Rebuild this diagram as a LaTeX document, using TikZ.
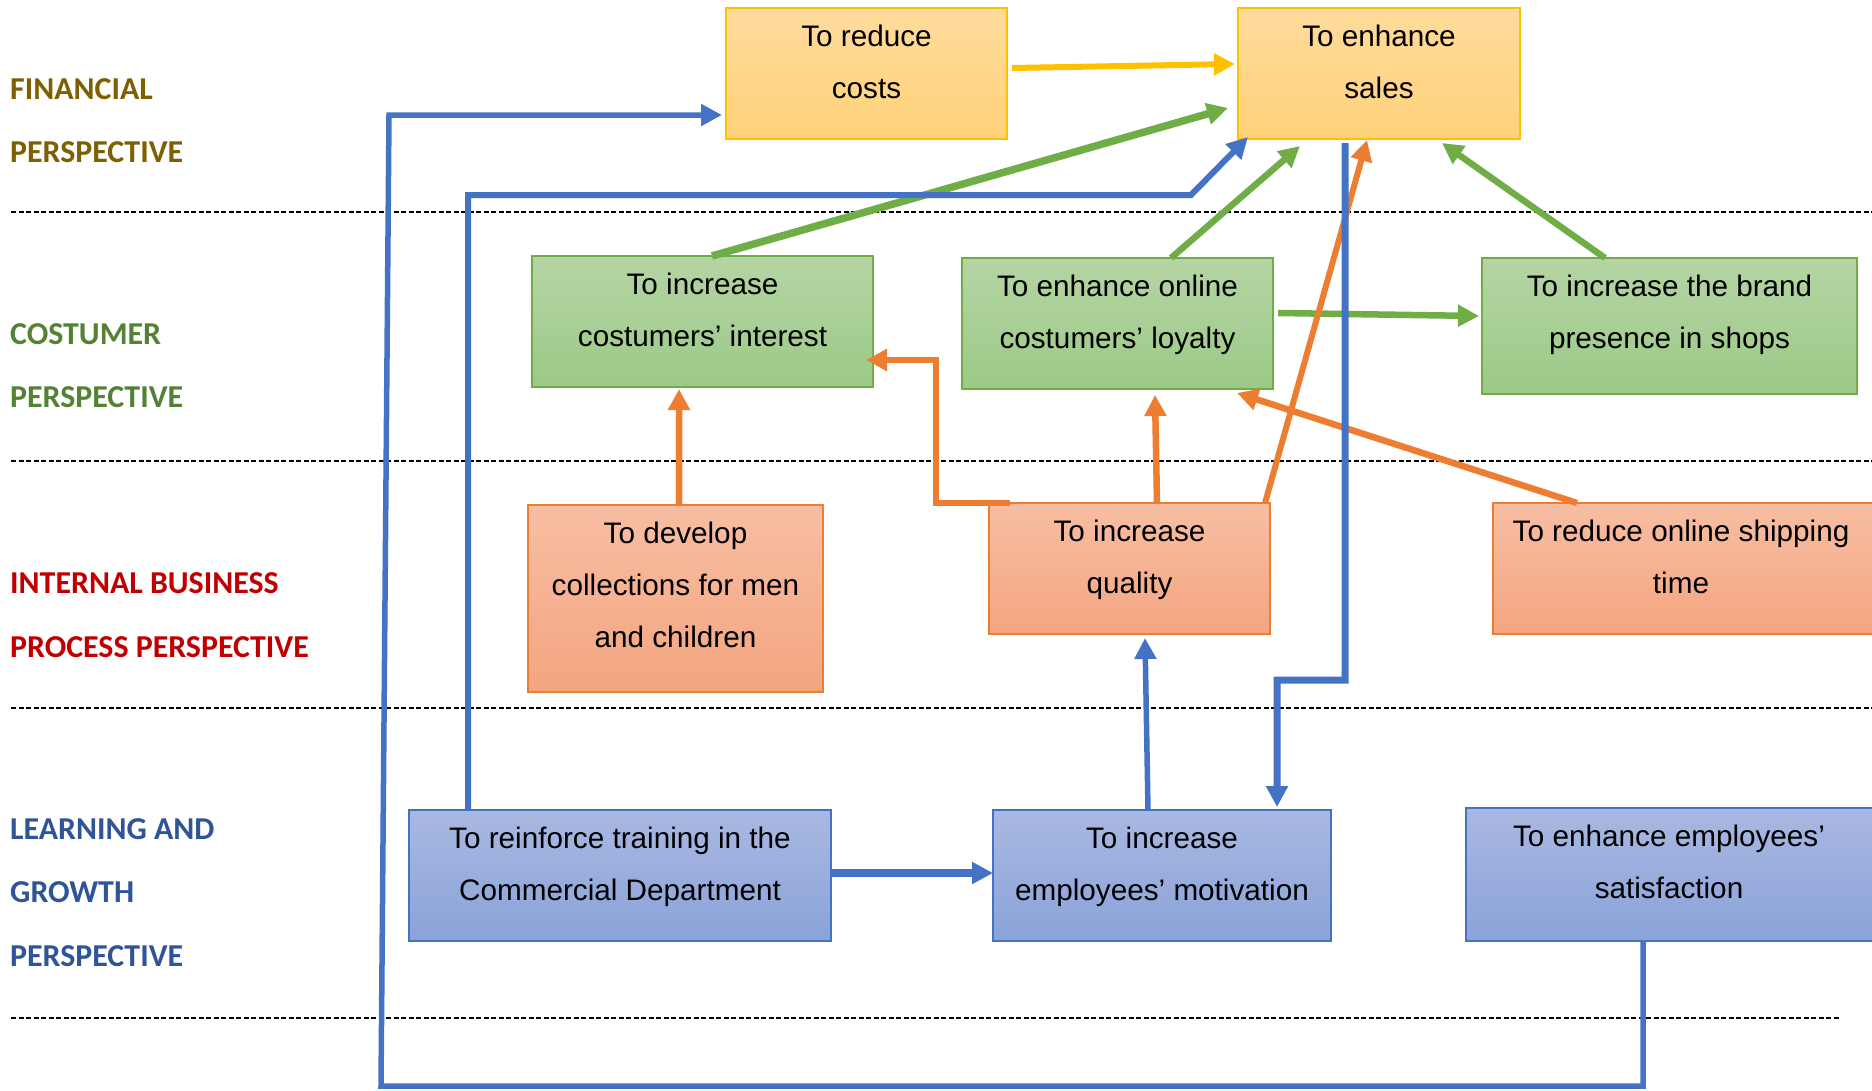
\documentclass[tikz,border=0pt]{standalone}
\usepackage{fontspec}
\setmainfont{Liberation Sans}
\newfontfamily\labelfont{Carlito}
\usetikzlibrary{arrows.meta,calc}

\definecolor{goldline}{HTML}{FFC000}
\definecolor{goldtop}{HTML}{FFDB9C}
\definecolor{goldbot}{HTML}{FFD27A}
\definecolor{greenline}{HTML}{70AD47}
\definecolor{greentop}{HTML}{B5D5A4}
\definecolor{greenbot}{HTML}{9CC987}
\definecolor{orangeline}{HTML}{ED7D31}
\definecolor{orangetop}{HTML}{F7BEA3}
\definecolor{orangebot}{HTML}{F4A580}
\definecolor{blueline}{HTML}{4472C4}
\definecolor{bluetop}{HTML}{A9B8E1}
\definecolor{bluebot}{HTML}{8AA3D9}
\definecolor{finlabel}{HTML}{7F6000}
\definecolor{cuslabel}{HTML}{548235}
\definecolor{intlabel}{HTML}{C00000}
\definecolor{lrnlabel}{HTML}{2F5597}

\begin{document}
\begin{tikzpicture}[x=1bp,y=-1bp,
  boxbase/.style={line width=1.5bp, inner sep=0pt, outer sep=0pt},
  ybox/.style={boxbase, draw=goldline, top color=goldtop, bottom color=goldbot},
  gbox/.style={boxbase, draw=greenline, top color=greentop, bottom color=greenbot},
  obox/.style={boxbase, draw=orangeline, top color=orangetop, bottom color=orangebot},
  bbox/.style={boxbase, draw=blueline, top color=bluetop, bottom color=bluebot},
  boxtext/.style={font=\fontsize{29.8}{52}\selectfont, align=center, inner sep=0pt, anchor=north, text=black},
  sidelabel/.style={font=\labelfont\bfseries\fontsize{32}{63.5}\selectfont, align=left, inner sep=0pt, anchor=north west},
  divider/.style={black, line width=1.8bp, dash pattern=on 5bp off 2.5bp},
  tipped/.style={-{Triangle[length=21bp,width=21bp]}},
  yarrow/.style={tipped, goldline, line width=6bp},
  garrow/.style={tipped, greenline, line width=6.5bp},
  oarrow/.style={tipped, orangeline, line width=6.5bp},
  barrow/.style={tipped, blueline, line width=6.5bp}
]
\fill[white] (0,0) rectangle (1872,1090);
\useasboundingbox (0,0) rectangle (1872,1090);

% perspective dividers
\draw[divider] (11,212) -- (1872,212);
\draw[divider] (11,461) -- (1872,461);
\draw[divider] (11,708) -- (1872,708);
\draw[divider] (11,1018) -- (1839,1018);

% perspective names
\node[sidelabel, text=finlabel] (lab-fin) at (10,55) {\strut FINANCIAL\\PERSPECTIVE};
\node[sidelabel, text=cuslabel] (lab-cus) at (10,300) {\strut COSTUMER\\PERSPECTIVE};
\node[sidelabel, text=intlabel] (lab-int) at (10,549.5) {\strut INTERNAL BUSINESS\\PROCESS PERSPECTIVE};
\node[sidelabel, text=lrnlabel] (lab-lrn) at (10,795) {\strut LEARNING AND\\GROWTH\\PERSPECTIVE};

% objective boxes
\node[ybox, minimum width=281bp, minimum height=131bp] (costs) at (866.5,73.5) {};
\node[ybox, minimum width=282bp, minimum height=131bp] (sales) at (1379,73.5) {};
\node[gbox, minimum width=341bp, minimum height=131bp] (interest) at (702.5,321.5) {};
\node[gbox, minimum width=311bp, minimum height=131bp] (loyalty) at (1117.5,323.5) {};
\node[gbox, minimum width=375bp, minimum height=136bp] (brand) at (1669.5,326) {};
\node[obox, minimum width=295bp, minimum height=187bp] (develop) at (675.5,598.5) {};
\node[obox, minimum width=281bp, minimum height=131bp] (quality) at (1129.5,568.5) {};
\node[obox, minimum width=382bp, minimum height=131bp] (shipping) at (1684,568.5) {};
\node[bbox, minimum width=422bp, minimum height=131bp] (reinforce) at (620,875.5) {};
\node[bbox, minimum width=338bp, minimum height=131bp] (motivation) at (1162,875.5) {};
\node[bbox, minimum width=409bp, minimum height=133bp] (satisfaction) at (1670.5,874.5) {};

% box texts
\node[boxtext] (costs-t) at ($(costs.north)+(0,2.4)$) {\strut To reduce\\costs};
\node[boxtext] (sales-t) at ($(sales.north)+(0,2.4)$) {\strut To enhance\\sales};
\node[boxtext] (interest-t) at ($(interest.north)+(0,2.4)$) {\strut To increase\\costumers’ interest};
\node[boxtext] (loyalty-t) at ($(loyalty.north)+(0,2.4)$) {\strut To enhance online\\costumers’ loyalty};
\node[boxtext] (brand-t) at ($(brand.north)+(0,2.4)$) {\strut To increase the brand\\presence in shops};
\node[boxtext] (develop-t) at ($(develop.north)+(0,2.4)$) {\strut To develop\\collections for men\\and children};
\node[boxtext] (quality-t) at ($(quality.north)+(0,2.4)$) {\strut To increase\\quality};
\node[boxtext] (shipping-t) at ($(shipping.north)+(-3,2.4)$) {\strut To reduce online shipping\\time};
\node[boxtext] (reinforce-t) at ($(reinforce.north)+(0,2.4)$) {\strut To reinforce training in the\\Commercial Department};
\node[boxtext] (motivation-t) at ($(motivation.north)+(0,2.4)$) {\strut To increase\\employees’ motivation};
\node[boxtext] (satisfaction-t) at ($(satisfaction.north)+(-1.5,2.4)$) {\strut To enhance employees’\\satisfaction};

% financial link
\draw[yarrow] ($(costs.east)+(5,-5.5)$) -- ($(sales.west)+(-3,-9.5)$);

% customer links
\draw[garrow, line width=7.5bp] ($(interest.north)+(9.5,0)$) -- ($(sales.west)+(-10,34.5)$);
\draw[garrow] ($(loyalty.north)+(53.5,0)$) -- ($(sales.south)+(-79,7)$);
\draw[garrow] ($(brand.north)+(-64.5,0)$) -- ($(sales.south)+(63,4)$);
\draw[garrow] ($(loyalty.east)+(5,-10.5)$) -- ($(brand.west)+(-3,-10)$);

% internal process links
\draw[oarrow] ($(develop.north)+(3.5,0)$) -- ($(interest.south)+(-23.5,2)$);
\draw[oarrow] ($(quality.north west)+(21,0)$) -- ++(-74,0) |- ($(interest.east)+(-7,38.5)$);
\draw[oarrow] ($(quality.north)+(27.5,0)$) -- ($(loyalty.south)+(37.5,6)$);
\draw[oarrow, line width=6bp] ($(quality.north east)+(-5,0)$) -- ($(sales.south)+(-12,1)$);
\draw[oarrow] ($(shipping.north west)+(84,0)$) -- ($(loyalty.south east)+(-36,4)$);

% learning and growth links
\draw[barrow, line width=5.5bp] ($(motivation.north)+(-14,0)$) -- ($(quality.south)+(15.5,4)$);
\draw[barrow, line width=8bp] ($(reinforce.east)+(0,-2.5)$) -- ($(motivation.west)+(0,-2.5)$);
\draw[barrow, line width=7bp] ($(sales.south)+(-34,4)$) -- ++(0,537) -- ++(-68,0) -- ($(motivation.north east)+(-54,-3)$);
\draw[barrow, line width=6bp] ($(reinforce.north west)+(59,0)$) -- ++(0,-615) -- ++(723,0) -- ($(sales.south west)+(10,-2)$);
\draw[barrow, line width=5.5bp] ($(satisfaction.south west)+(177,0)$) -- ++(0,145) -- ++(-1262,0) -- ++(8,-971) -- ($(costs.west)+(-4,41.5)$);
\end{tikzpicture}
\end{document}
